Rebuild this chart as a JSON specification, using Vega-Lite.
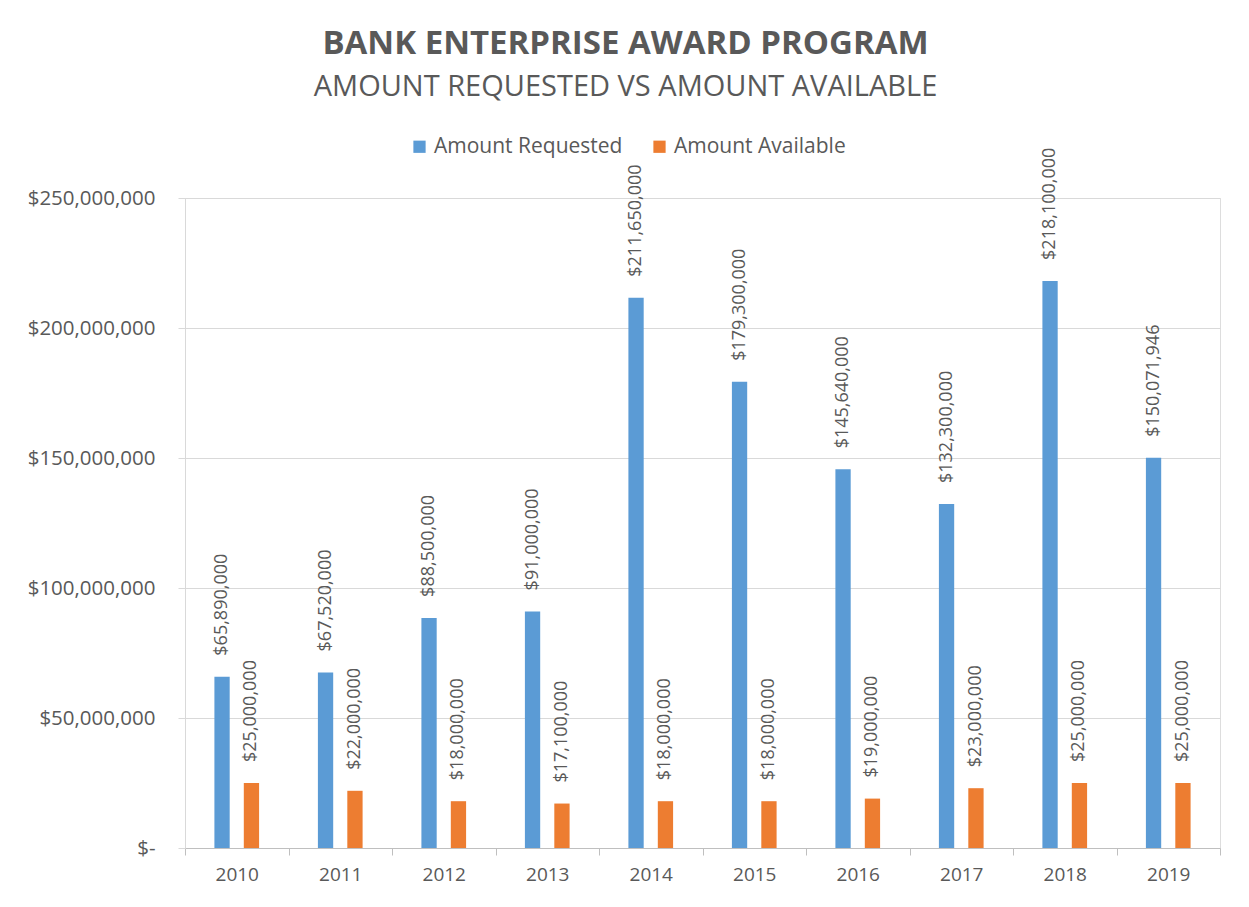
{
  "$schema": "https://vega.github.io/schema/vega-lite/v6.json",
  "width": 1035,
  "height": 650,
  "autosize": {"type": "none"},
  "padding": {"left": 185, "top": 198, "right": 29, "bottom": 59},
  "background": "white",
  "title": {
    "text": "BANK ENTERPRISE AWARD PROGRAM",
    "subtitle": "AMOUNT REQUESTED VS AMOUNT AVAILABLE",
    "anchor": "middle",
    "frame": "group",
    "dx": -77,
    "offset": 34,
    "font": "Open Sans",
    "fontSize": 33,
    "fontWeight": "bold",
    "color": "#595959",
    "subtitleFont": "Open Sans",
    "subtitleFontSize": 29,
    "subtitleColor": "#595959",
    "subtitlePadding": 12
  },
  "data": {
    "values": [
      {"year": "2010", "series": "Amount Requested", "amount": 65890000},
      {"year": "2011", "series": "Amount Requested", "amount": 67520000},
      {"year": "2012", "series": "Amount Requested", "amount": 88500000},
      {"year": "2013", "series": "Amount Requested", "amount": 91000000},
      {"year": "2014", "series": "Amount Requested", "amount": 211650000},
      {"year": "2015", "series": "Amount Requested", "amount": 179300000},
      {"year": "2016", "series": "Amount Requested", "amount": 145640000},
      {"year": "2017", "series": "Amount Requested", "amount": 132300000},
      {"year": "2018", "series": "Amount Requested", "amount": 218100000},
      {"year": "2019", "series": "Amount Requested", "amount": 150071946},
      {"year": "2010", "series": "Amount Available", "amount": 25000000},
      {"year": "2011", "series": "Amount Available", "amount": 22000000},
      {"year": "2012", "series": "Amount Available", "amount": 18000000},
      {"year": "2013", "series": "Amount Available", "amount": 17100000},
      {"year": "2014", "series": "Amount Available", "amount": 18000000},
      {"year": "2015", "series": "Amount Available", "amount": 18000000},
      {"year": "2016", "series": "Amount Available", "amount": 19000000},
      {"year": "2017", "series": "Amount Available", "amount": 23000000},
      {"year": "2018", "series": "Amount Available", "amount": 25000000},
      {"year": "2019", "series": "Amount Available", "amount": 25000000}
    ]
  },
  "encoding": {
    "x": {
      "field": "year",
      "type": "nominal",
      "scale": {"paddingInner": 0, "paddingOuter": 0},
      "axis": {
        "title": null,
        "labelAngle": 0,
        "labelFont": "Open Sans",
        "labelFontSize": 19,
        "labelColor": "#595959",
        "labelPadding": 10,
        "domainColor": "#BFBFBF",
        "tickColor": "#BFBFBF",
        "tickSize": 7,
        "tickBand": "extent"
      }
    },
    "xOffset": {
      "field": "series",
      "type": "nominal",
      "sort": ["Amount Requested", "Amount Available"],
      "scale": {"paddingInner": 0.48, "paddingOuter": 1.16}
    },
    "y": {
      "field": "amount",
      "type": "quantitative",
      "scale": {"domain": [0, 250000000], "nice": false},
      "axis": {
        "title": null,
        "values": [0, 50000000, 100000000, 150000000, 200000000, 250000000],
        "labelExpr": "datum.value == 0 ? '$-       ' : format(datum.value, '$,.0f')",
        "labelFont": "Open Sans",
        "labelFontSize": 20.5,
        "labelColor": "#595959",
        "labelPadding": 23,
        "gridColor": "#D9D9D9",
        "domainColor": "#D9D9D9",
        "tickColor": "#D9D9D9",
        "tickSize": 7
      }
    }
  },
  "layer": [
    {
      "mark": {"type": "bar"},
      "encoding": {
        "color": {
          "field": "series",
          "type": "nominal",
          "sort": ["Amount Requested", "Amount Available"],
          "scale": {"domain": ["Amount Requested", "Amount Available"], "range": ["#5B9BD5", "#ED7D31"]},
          "legend": {
            "title": null,
            "orient": "none",
            "legendX": 224,
            "legendY": -62,
            "direction": "horizontal",
            "symbolType": "square",
            "symbolSize": 150,
            "labelFont": "Open Sans",
            "labelFontSize": 21,
            "labelLimit": 400,
            "labelColor": "#595959",
            "columnPadding": 26,
            "symbolStrokeWidth": 0
          }
        }
      }
    },
    {
      "mark": {
        "type": "text",
        "angle": 270,
        "align": "left",
        "baseline": "middle",
        "dx": 21,
        "font": "Open Sans",
        "fontSize": 18,
        "color": "#595959"
      },
      "encoding": {
        "text": {"field": "amount", "type": "quantitative", "format": "$,.0f"}
      }
    }
  ]
}
